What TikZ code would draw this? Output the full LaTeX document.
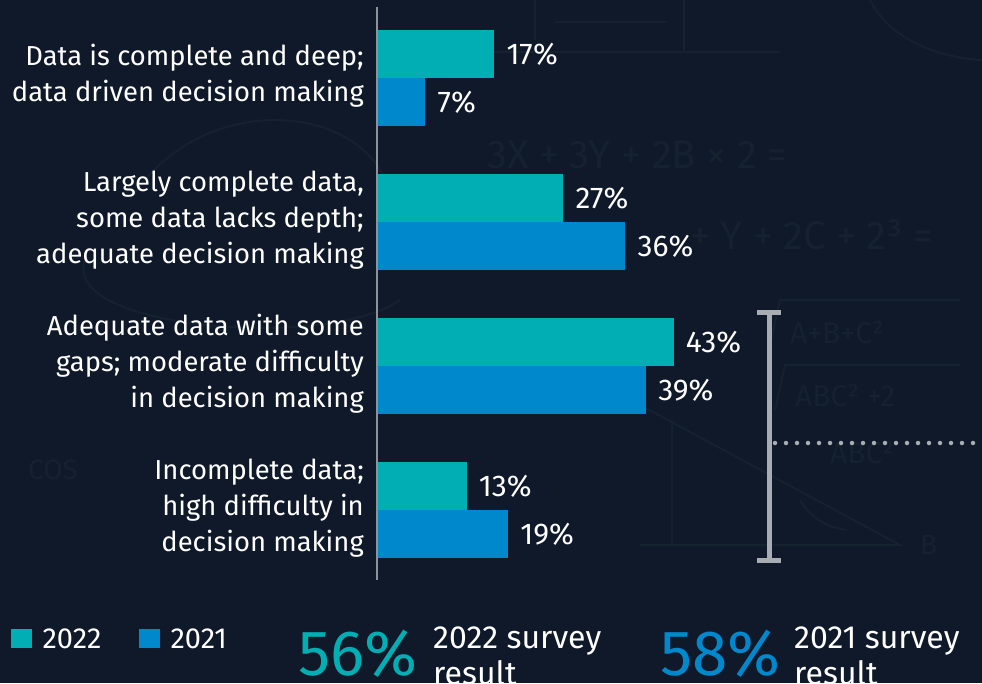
\documentclass[tikz,border=0pt]{standalone}
\usepackage{fontspec}
\setmainfont{Fira Sans}
\usetikzlibrary{positioning}
\definecolor{bgnavy}{HTML}{0F1929}
\definecolor{teal22}{HTML}{00AEB3}
\definecolor{blue21}{HTML}{0088CC}
\definecolor{axisgray}{HTML}{8C939B}
\definecolor{errgray}{HTML}{A7ADB3}
\definecolor{chalk}{HTML}{16212F}
\tikzset{
  bar/.style={inner sep=0pt, outer sep=0pt, minimum height=48pt, anchor=north west},
  catlabel/.style={text=white, align=right, anchor=east, inner sep=0pt,
    font=\fontsize{27.4}{36}\selectfont},
  pctlabel/.style={text=white, inner sep=0pt, font=\fontsize{30}{30}\selectfont},
  legsq/.style={inner sep=0pt, minimum width=21pt, minimum height=19pt, anchor=north west},
  legtxt/.style={text=white, inner sep=0pt, font=\fontsize{29}{29}\selectfont},
  bigpct/.style={inner sep=0pt, anchor=base west, font=\fontsize{64}{64}\selectfont},
  stattxt/.style={text=white, align=left, inner sep=0pt, anchor=north west,
    font=\fontsize{32}{36}\selectfont},
  errbar/.style={errgray, line width=5pt},
  chalktxt/.style={text=chalk, inner sep=0pt, font=\fontsize{40}{40}\selectfont},
}
\begin{document}
\begin{tikzpicture}[x=1pt,y=-1pt]
  \useasboundingbox (0,0) rectangle (982,683);
  \fill[bgnavy] (0,0) rectangle (982,683);
  % faint chalkboard sketch behind the chart
  \begin{scope}[chalk, line width=2pt]
    \draw (480,52) -- (780,52);
    \draw (555,22) -- (667,22);
    \draw (535,0) -- (535,40);
    \draw (684,0) -- (684,52);
    \draw (870,0) .. controls (890,40) and (940,58) .. (982,60);
    \draw (640,405) -- (900,545) -- (640,545);
    \draw (672,420) -- (672,545);
    \draw (800,500) arc (150:95:60);
    \draw (85,260) .. controls (60,330) and (330,350) .. (400,300);
    \draw (130,200) .. controls (200,90) and (360,100) .. (390,190);
    \draw (770,345) -- (780,300) -- (960,300);
    \draw (775,410) -- (785,365) -- (960,365);
  \end{scope}
  \node[chalktxt, anchor=west] (eq1) at (487,155) {3X + 3Y + 2B × 2 =};
  \node[chalktxt, anchor=west] (eq2) at (690,235) {+ Y + 2C + 2³ =};
  \node[chalktxt, anchor=west, font=\fontsize{30}{30}\selectfont] (eq3) at (790,332) {A+B+C²};
  \node[chalktxt, anchor=west, font=\fontsize{30}{30}\selectfont] (eq4) at (795,395) {ABC² +2};
  \node[chalktxt, anchor=west, font=\fontsize{30}{30}\selectfont] (eq5) at (830,452) {ABC²};
  \node[chalktxt, anchor=west, font=\fontsize{28}{28}\selectfont] (eq6) at (28,470) {COS};
  \node[chalktxt, anchor=west, font=\fontsize{28}{28}\selectfont] (eq8) at (920,545) {B};

  % bars, one group per answer
  \foreach \i/\a/\b/\txt in {
    0/17/7/{Data is complete and deep;\\data driven decision making},
    1/27/36/{Largely complete data,\\some data lacks depth;\\adequate decision making},
    2/43/39/{Adequate data with some\\gaps; moderate difficulty\\in decision making},
    3/13/19/{Incomplete data;\\high difficulty in\\decision making}}
  {
    \node[bar, fill=teal22, minimum width={\a*6.9pt}] (t\i) at (377,{30+144*\i}) {};
    \node[bar, fill=blue21, minimum width={\b*6.9pt}] (b\i) at (377,{78+144*\i}) {};
    \node[pctlabel, right=12pt of t\i] (pt\i) {\a\%};
    \node[pctlabel, right=12pt of b\i] (pb\i) {\b\%};
    \node[catlabel] (lab\i) at (364,{76+144*\i}) {\txt};
  }
  \coordinate (axtop) at (377,7);
  \coordinate (axbot) at (377,580);
  \draw[axisgray, line width=2pt] (axtop) -- (axbot);

  % range bracket with dotted leader
  \coordinate (etop) at (769,312);
  \coordinate (ebot) at (769,560);
  \coordinate (emid) at (769,443);
  \coordinate (eend) at (982,443);
  \draw[errbar] (etop) -- (ebot);
  \draw[errbar] ([xshift=-12pt]etop) -- ([xshift=12pt]etop);
  \draw[errbar] ([xshift=-12pt]ebot) -- ([xshift=12pt]ebot);
  \draw[errgray, line width=4.5pt, line cap=round, dash pattern=on 0pt off 11pt]
    ([xshift=6pt]emid) -- (eend);

  % legend
  \node[legsq, fill=teal22] (k22) at (11,629) {};
  \node[legtxt, right=10pt of k22] (l22) {2022};
  \node[legsq, fill=blue21] (k21) at (139,629) {};
  \node[legtxt, right=10pt of k21] (l21) {2021};

  % survey results
  \node[bigpct, text=teal22] (s22) at (298,675) {56\%};
  \node[stattxt] (r22) at (433,627) {2022 survey\\result};
  \node[bigpct, text=blue21] (s21) at (660,675) {58\%};
  \node[stattxt] (r21) at (794,627) {2021 survey\\result};
\end{tikzpicture}
\end{document}
